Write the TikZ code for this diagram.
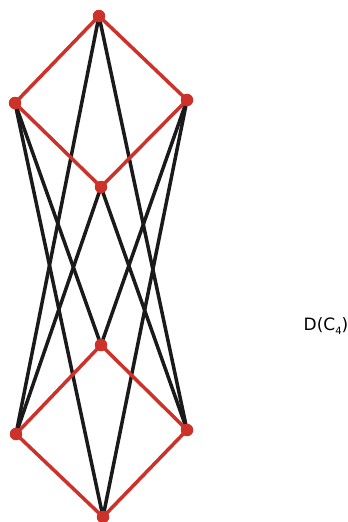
\documentclass[tikz,border=0pt]{standalone}
\usepackage{fontspec}
\setmainfont{DejaVu Sans}
\usepackage{xcolor}
\usetikzlibrary{positioning,backgrounds}

\definecolor{cyclered}{RGB}{204,50,42}
\definecolor{edgeblack}{RGB}{26,26,26}

\begin{document}
\begin{tikzpicture}[
  x=1pt, y=-1pt,
  vert/.style={circle, fill=cyclered, inner sep=0pt, minimum size=12.5pt},
  cyc/.style={cyclered, line width=3.5pt},
  cross/.style={edgeblack, line width=3.5pt},
]
\useasboundingbox (0,0) rectangle (348,522);

% upper copy of C4
\node[vert] (t) at (99,16) {};
\node[vert] (ul) at (15,103) {};
\node[vert] (ur) at (187,100) {};
\node[vert] (um) at (101,187) {};
% lower copy of C4
\node[vert] (lm) at (101,345) {};
\node[vert] (ll) at (16,434) {};
\node[vert] (lr) at (187,430) {};
\node[vert] (b) at (103,517) {};

\begin{scope}[on background layer]
\draw[cross] (t.center) -- (ll.center);
\draw[cross] (t.center) -- (lr.center);
\draw[cross] (um.center) -- (ll.center);
\draw[cross] (um.center) -- (lr.center);
\draw[cross] (ul.center) -- (lm.center);
\draw[cross] (ul.center) -- (b.center);
\draw[cross] (ur.center) -- (lm.center);
\draw[cross] (ur.center) -- (b.center);

\draw[cyc] (t.center) -- (ul.center) -- (um.center) -- (ur.center) -- cycle;
\draw[cyc] (lm.center) -- (ll.center) -- (b.center) -- (lr.center) -- cycle;
\end{scope}

\node[font=\fontsize{17}{20}\selectfont] (name) at (326,326)
  {D(C\raisebox{-4pt}{\fontsize{10}{10}\selectfont 4})};
\end{tikzpicture}
\end{document}
